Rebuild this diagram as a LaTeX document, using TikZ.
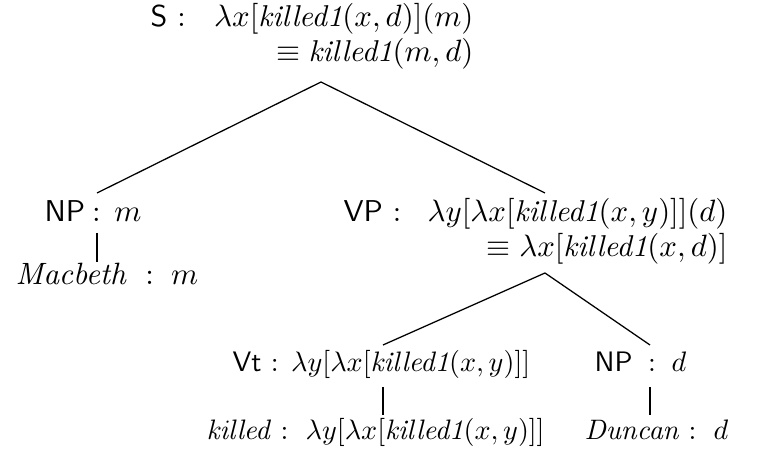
\documentclass[tikz,border=0pt]{standalone}
\usepackage{amsmath}
\newcommand{\kd}{\textit{killed1}}
\newcommand{\cat}[1]{\textsf{#1}}
\begin{document}
\begin{tikzpicture}[x=0.355pt,y=-0.355pt,
  lbl/.style={inner sep=0pt,font=\fontsize{10}{12}\selectfont},
  big/.style={inner sep=0pt,font=\fontsize{10.7}{12.8}\selectfont},
  edge/.style={line width=0.45pt},
  unary/.style={line width=0.8pt}]
\useasboundingbox (0,0) rectangle (770,453);
% S
\node[big,anchor=base west] (scat) at (150,27) {\cat{S} :};
\node[big,anchor=base east] (s1) at (474,27) {$\lambda x[\kd(x,d)](m)$};
\node[big,anchor=base east] (s2) at (474,62) {$\equiv \kd(m,d)$};
% NP m
\node[big,anchor=base west] (np1) at (44,222) {$\cat{NP}\:{:}\:\:m$};
\node[big,anchor=base west] (mac) at (15,285) {$\mathit{Macbeth}\;:\;m$};
% VP
\node[big,anchor=base west] (vpcat) at (343,222) {\cat{VP} :};
\node[big,anchor=base east] (vp1) at (728,222) {$\lambda y[\lambda x[\kd(x,y)]](d)$};
\node[big,anchor=base east] (vp2) at (728,257) {$\equiv \lambda x[\kd(x,d)]$};
% Vt
\node[lbl,anchor=base west] (vt) at (232,372) {\cat{Vt} : $\lambda y[\lambda x[\kd(x,y)]]$};
\node[lbl,anchor=base west] (np2) at (594,372) {$\cat{NP}\;:\;d$};
\node[lbl,anchor=base west] (kil) at (206,440) {$\mathit{killed} :\ \lambda y[\lambda x[\kd(x,y)]]$};
\node[lbl,anchor=base west] (dun) at (584,440) {$\mathit{Duncan} :\ d$};
% attachment points
\coordinate (sA) at (321,82);
\coordinate (npT) at (97,193);
\coordinate (vpT) at (545,193);
\coordinate (vpA) at (545,273);
\coordinate (vtT) at (383,345);
\coordinate (np2T) at (650,345);
\coordinate (npB) at (97,233);
\coordinate (macT) at (97,262);
\coordinate (vtB) at (383,387);
\coordinate (kilT) at (383,415);
\coordinate (np2B) at (650,387);
\coordinate (dunT) at (650,415);
\draw[edge] (sA) -- (npT);
\draw[edge] (sA) -- (vpT);
\draw[edge] (vpA) -- (vtT);
\draw[edge] (vpA) -- (np2T);
\draw[unary] (npB) -- (macT);
\draw[unary] (vtB) -- (kilT);
\draw[unary] (np2B) -- (dunT);
\end{tikzpicture}
\end{document}
